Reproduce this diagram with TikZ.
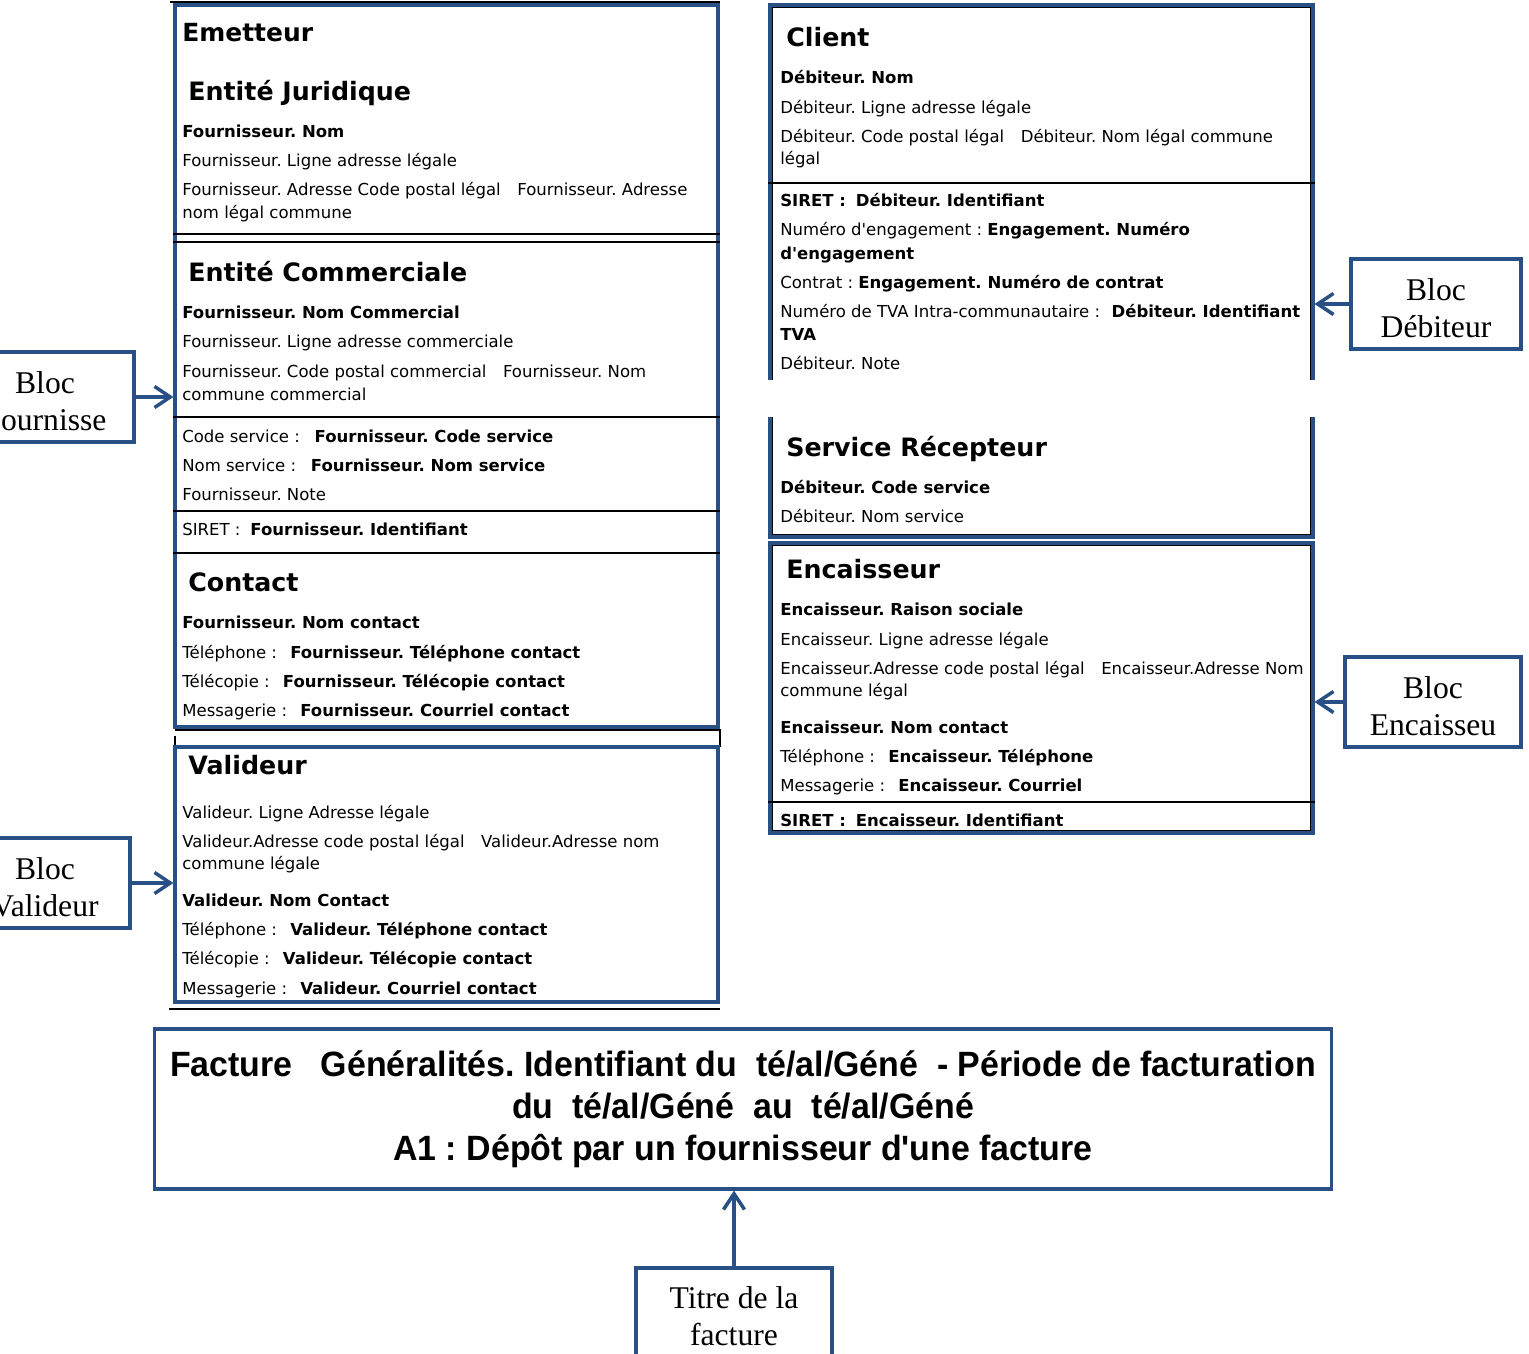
\documentclass[tikz,border=0pt]{standalone}
\usepackage{fontspec}
\setmainfont{DejaVu Sans}[Ligatures=TeXOff]
\newfontfamily\blocfont{Liberation Serif}
\newfontfamily\titrefont[FakeStretch=0.965]{Liberation Sans}
\usetikzlibrary{arrows.meta}
\definecolor{bleucadre}{RGB}{41,80,132}
\newcommand{\haut}{\rule{0pt}{17.5pt}}
\frenchspacing

\tikzset{
  cadre/.style={draw=bleucadre, line width=1.8pt, minimum width=10.86cm},
  bloc/.style={draw=bleucadre, line width=1.8pt, fill=white, align=center,
    font=\blocfont\fontsize{18}{21}\selectfont, minimum height=1.8cm},
  fleche/.style={draw=bleucadre, line width=2pt, -{Straight Barb[length=9pt,width=12pt]}},
  champ/.style={anchor=west, inner sep=0pt, text height=6.9pt, text depth=0pt,
    font=\fontsize{9.4}{11}\selectfont},
  rubrique/.style={champ, text height=10.5pt, font=\bfseries\fontsize{14.4}{17}\selectfont},
  trait/.style={line width=0.6pt}
}

\begin{document}
\begin{tikzpicture}[x=0.02cm,y=-0.02cm]
		\useasboundingbox (0,0) rectangle (1529,1354);
		\clip (0,0) rectangle (1529,1354);
		
		\draw[trait] (170,2) -- (720,2);
		\draw[trait] (175,730) -- (720,730) -- (720,747);
		\draw[trait] (175,736) -- (175,747);
		\draw[trait] (169,1009) -- (720,1009);
		
		\node[cadre, minimum height=14.44cm] (emetteur) at (446.5,366) {};
		\node[cadre, minimum height=5.1cm] (valideur) at (446.5,874.5) {};
		\node[cadre, minimum height=10.64cm] (client) at (1041.5,271) {};
		\node[cadre, minimum height=5.8cm] (encaisseur) at (1041.5,688) {};
		\draw[trait] ([shift={(2.5pt,-2.5pt)}]client.north west) rectangle ([shift={(-2.5pt,2.5pt)}]client.south east);
		\draw[trait] ([shift={(2.5pt,-2.5pt)}]encaisseur.north west) rectangle ([shift={(-2.5pt,2.5pt)}]encaisseur.south east);
		\fill[white] (766,380) rectangle (777,417);
		\fill[white] (1307,380) rectangle (1318,417);
		
		\foreach \y in {234,242,417,511,553}
			\draw[trait] (emetteur.west |- 0,\y) -- (emetteur.east |- 0,\y);
		\draw[trait] (client.west |- 0,183) -- (client.east |- 0,183);
		\draw[trait] (encaisseur.west |- 0,802) -- (encaisseur.east |- 0,802);
		
		\node[rubrique, text height=10.3pt, font=\bfseries\fontsize{14.2}{17}\selectfont] (temet) at (182,32) {Emetteur};
		\node[rubrique] (tjur) at (188,91) {Entité Juridique};
		\node[champ] (ej1) at (182,131) {\textbf{Fournisseur. Nom}};
		\node[champ] (ej2) at (182,160) {Fournisseur. Ligne adresse légale};
		\node[champ] (ej3) at (182,189) {Fournisseur. Adresse Code postal légal\hspace{1em}Fournisseur. Adresse};
		\node[champ] (ej4) at (182,212) {nom légal commune};
		
		\node[rubrique] (tcom) at (188,272) {Entité Commerciale};
		\node[champ] (ec1) at (182,312) {\textbf{Fournisseur. Nom Commercial}};
		\node[champ] (ec2) at (182,341) {Fournisseur. Ligne adresse commerciale};
		\node[champ] (ec3) at (182,371) {Fournisseur. Code postal commercial\hspace{1em}Fournisseur. Nom};
		\node[champ] (ec4) at (182,394) {commune commercial};
		\node[champ] (sv1) at (182,436) {Code service :\hspace{0.9em}\textbf{Fournisseur. Code service}};
		\node[champ] (sv2) at (182,465) {Nom service :\hspace{0.9em}\textbf{Fournisseur. Nom service}};
		\node[champ] (sv3) at (182,494) {Fournisseur. Note};
		\node[champ] (sir) at (182,529) {SIRET :\hspace{0.6em}\textbf{Fournisseur. Identifiant}};
		
		\node[rubrique] (tcon) at (188,582) {Contact};
		\node[champ] (co1) at (182,622) {\textbf{Fournisseur. Nom contact}};
		\node[champ] (co2) at (182,652) {Téléphone :\hspace{0.8em}\textbf{Fournisseur. Téléphone contact}};
		\node[champ] (co3) at (182,681) {Télécopie :\hspace{0.8em}\textbf{Fournisseur. Télécopie contact}};
		\node[champ] (co4) at (182,710) {Messagerie :\hspace{0.8em}\textbf{Fournisseur. Courriel contact}};
		
		\node[rubrique] (tval) at (188,765) {Valideur};
		\node[champ] (va1) at (182,812) {Valideur. Ligne Adresse légale};
		\node[champ] (va2) at (182,841) {Valideur.Adresse code postal légal\hspace{1em}Valideur.Adresse nom};
		\node[champ] (va3) at (182,863) {commune légale};
		\node[champ] (va4) at (182,900) {\textbf{Valideur. Nom Contact}};
		\node[champ] (va5) at (182,929) {Téléphone :\hspace{0.8em}\textbf{Valideur. Téléphone contact}};
		\node[champ] (va6) at (182,958) {Télécopie :\hspace{0.8em}\textbf{Valideur. Télécopie contact}};
		\node[champ] (va7) at (182,988) {Messagerie :\hspace{0.8em}\textbf{Valideur. Courriel contact}};
		
		\node[rubrique] (tcli) at (786,37) {Client};
		\node[champ] (cl1) at (780,77) {\textbf{Débiteur. Nom}};
		\node[champ] (cl2) at (780,107) {Débiteur. Ligne adresse légale};
		\node[champ] (cl3) at (780,136) {Débiteur. Code postal légal\hspace{1em}Débiteur. Nom légal commune};
		\node[champ] (cl4) at (780,158) {légal};
		\node[champ] (cl5) at (780,200) {\textbf{SIRET :\hspace{0.6em}Débiteur. Identifiant}};
		\node[champ] (cl6) at (780,229) {Numéro d'engagement : \textbf{Engagement. Numéro}};
		\node[champ] (cl7) at (780,253) {\textbf{d'engagement}};
		\node[champ] (cl8) at (780,282) {Contrat : \textbf{Engagement. Numéro de contrat}};
		\node[champ] (cl9) at (780,311) {Numéro de TVA Intra-communautaire :\hspace{0.7em}\textbf{Débiteur. Identifiant}};
		\node[champ] (cl10) at (780,334) {\textbf{TVA}};
		\node[champ] (cl11) at (780,363) {Débiteur. Note};
		\node[rubrique] (tsrv) at (786,447) {Service Récepteur};
		\node[champ] (sr1) at (780,487) {\textbf{Débiteur. Code service}};
		\node[champ] (sr2) at (780,516) {Débiteur. Nom service};
		
		\node[rubrique] (tenc) at (786,569) {Encaisseur};
		\node[champ] (en1) at (780,609) {\textbf{Encaisseur. Raison sociale}};
		\node[champ] (en2) at (780,639) {Encaisseur. Ligne adresse légale};
		\node[champ] (en3) at (780,668) {Encaisseur.Adresse code postal légal\hspace{1em}Encaisseur.Adresse Nom};
		\node[champ] (en4) at (780,690) {commune légal};
		\node[champ] (en5) at (780,727) {\textbf{Encaisseur. Nom contact}};
		\node[champ] (en6) at (780,756) {Téléphone :\hspace{0.8em}\textbf{Encaisseur. Téléphone}};
		\node[champ] (en7) at (780,785) {Messagerie :\hspace{0.8em}\textbf{Encaisseur. Courriel}};
		\node[champ] (en8) at (780,820) {\textbf{SIRET :\hspace{0.6em}Encaisseur. Identifiant}};
		
		\node[cadre, minimum width=23.56cm, minimum height=3.2cm, align=center,
			font=\titrefont\bfseries\fontsize{20}{23.8}\selectfont] (facture) at (743,1109)
			{Facture\ \ \ Généralités. Identifiant du\ \ té/al/Géné\ \ - Période de facturation\\
			du\ \ té/al/Géné\ \ au\ \ té/al/Géné\\
			A1 : Dépôt par un fournisseur d'une facture};
		
		\node[bloc, minimum width=3.56cm] (blocF) at (45,397) {\haut Bloc\\Fournisse};
		\node[bloc, minimum width=3.4cm] (blocV) at (45,883) {\haut Bloc\\Valideur};
		\node[bloc, minimum width=3.4cm] (blocD) at (1436,304) {\haut Bloc\\Débiteur};
		\node[bloc, minimum width=3.52cm] (blocE) at (1433,702) {\haut Bloc\\Encaisseu};
		\node[bloc, minimum width=3.92cm, minimum height=1.84cm] (titre) at (734,1314) {\rule{0pt}{15pt}Titre de la\\facture};
		
		\draw[fleche] (blocF) -- (blocF -| emetteur.west);
		\draw[fleche] (blocV) -- (blocV -| valideur.west);
		\draw[fleche] (blocD) -- (blocD -| client.east);
		\draw[fleche] (blocE) -- (blocE -| encaisseur.east);
		\draw[fleche] (titre) -- (titre |- facture.south);
\end{tikzpicture}
\end{document}
